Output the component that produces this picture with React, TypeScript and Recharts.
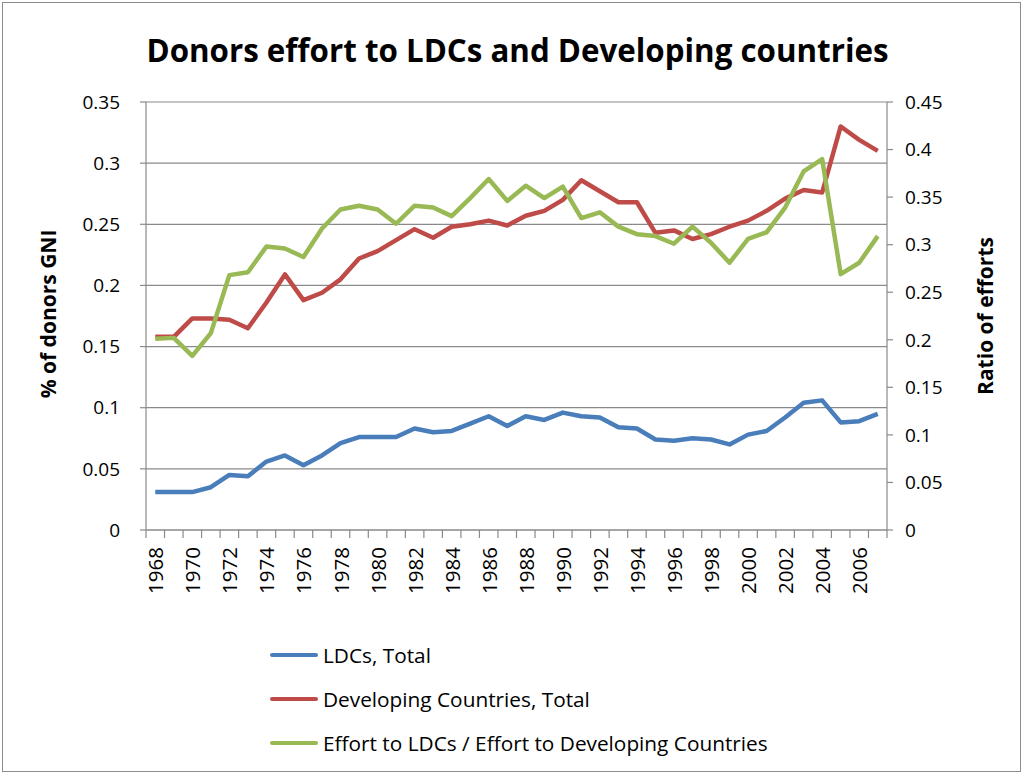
import { CartesianGrid, Legend, Line, LineChart, XAxis, YAxis } from "recharts";

const YEARS = [
  1968, 1969, 1970, 1971, 1972, 1973, 1974, 1975, 1976, 1977,
  1978, 1979, 1980, 1981, 1982, 1983, 1984, 1985, 1986, 1987,
  1988, 1989, 1990, 1991, 1992, 1993, 1994, 1995, 1996, 1997,
  1998, 1999, 2000, 2001, 2002, 2003, 2004, 2005, 2006, 2007,
];

const LDC_TOTAL = [
  0.031, 0.031, 0.031, 0.035, 0.045, 0.044, 0.056, 0.061, 0.053, 0.061,
  0.071, 0.076, 0.076, 0.076, 0.083, 0.080, 0.081, 0.087, 0.093, 0.085,
  0.093, 0.090, 0.096, 0.093, 0.092, 0.084, 0.083, 0.074, 0.073, 0.075,
  0.074, 0.070, 0.078, 0.081, 0.092, 0.104, 0.106, 0.088, 0.089, 0.095,
];

const DEV_TOTAL = [
  0.158, 0.158, 0.173, 0.173, 0.172, 0.165, 0.186, 0.209, 0.188, 0.194,
  0.205, 0.222, 0.228, 0.237, 0.246, 0.239, 0.248, 0.250, 0.253, 0.249,
  0.257, 0.261, 0.270, 0.286, 0.277, 0.268, 0.268, 0.243, 0.245, 0.238,
  0.242, 0.248, 0.253, 0.261, 0.271, 0.278, 0.276, 0.330, 0.319, 0.310,
];

const EFFORT_RATIO = [
  0.201, 0.202, 0.183, 0.207, 0.268, 0.271, 0.298, 0.296, 0.287, 0.317,
  0.337, 0.341, 0.337, 0.322, 0.341, 0.339, 0.330, 0.349, 0.369, 0.346,
  0.362, 0.349, 0.361, 0.328, 0.334, 0.319, 0.311, 0.309, 0.301, 0.319,
  0.302, 0.281, 0.306, 0.313, 0.339, 0.377, 0.390, 0.269, 0.281, 0.309,
];

const YEAR_LABELS = [
  1968, 1970, 1972, 1974, 1976, 1978, 1980, 1982, 1984, 1986,
  1988, 1990, 1992, 1994, 1996, 1998, 2000, 2002, 2004, 2006,
];
const LEFT_TICKS = [0, 0.05, 0.1, 0.15, 0.2, 0.25, 0.3, 0.35];
const RIGHT_TICKS = [0, 0.05, 0.1, 0.15, 0.2, 0.25, 0.3, 0.35, 0.4, 0.45];

const SERIES = [
  { key: "ldc", name: "LDCs, Total", color: "#4a7ebb", axis: "left" },
  { key: "dev", name: "Developing Countries, Total", color: "#be4b48", axis: "left" },
  { key: "ratio", name: "Effort to LDCs / Effort to Developing Countries", color: "#98b954", axis: "right" },
];

const FONT = '"Open Sans", sans-serif';
const GRID = "#8a8a8a";

const data = YEARS.map((year, i) => ({
  year,
  ldc: LDC_TOTAL[i],
  dev: DEV_TOTAL[i],
  ratio: EFFORT_RATIO[i],
}));

// category boundaries get tick marks, even years get labels
const boundaries = [...YEARS.map((y) => y - 0.5), YEARS[YEARS.length - 1] + 0.5];
const xTicks = [...boundaries, ...YEAR_LABELS].sort((a, b) => a - b);

function YearTick({ x, y, payload }: any) {
  const v = payload.value;
  if (!Number.isInteger(v)) {
    return <line x1={x} x2={x} y1={y} y2={y + 8} stroke={GRID} strokeWidth={1.2} />;
  }
  const ty = y + 17;
  return (
    <text
      x={x}
      y={ty}
      transform={`rotate(-90 ${x} ${ty})`}
      textAnchor="end"
      dominantBaseline="central"
      fontFamily={FONT}
      fontSize={20.5}
      fill="#000"
    >
      {v}
    </text>
  );
}

// keep the series order (the legend payload comes sorted by name)
function LegendBox() {
  return (
    <div style={{ fontFamily: FONT, fontSize: 20.8 }}>
      {SERIES.map((s) => (
        <div key={s.key} style={{ display: "flex", alignItems: "center", height: 44 }}>
          <span style={{ width: 48, height: 4.5, background: s.color, borderRadius: 2, marginRight: 5 }} />
          <span style={{ color: "#000", whiteSpace: "nowrap" }}>{s.name}</span>
        </div>
      ))}
    </div>
  );
}

const tickStyle = { fontFamily: FONT, fontSize: 19, fill: "#000" };

export default function App() {
  return (
    <div style={{ position: "absolute", left: 0, top: 0, width: 1027, height: 776, background: "#fff" }}>
      <div
        style={{
          position: "absolute", left: 2, top: 2, width: 1019, height: 770,
          border: "1px solid #8c8c8c", boxSizing: "border-box",
        }}
      />
      <div
        style={{
          position: "absolute", left: 4, top: 30, width: 1027, textAlign: "center",
          fontFamily: FONT, fontWeight: 700, fontSize: 31.3, lineHeight: "40px", color: "#000",
        }}
      >
        Donors effort to LDCs and Developing countries
      </div>
      <div
        style={{
          position: "absolute", left: 48, top: 314, transform: "translate(-50%, -50%) rotate(-90deg)",
          fontFamily: FONT, fontWeight: 700, fontSize: 21, whiteSpace: "nowrap", color: "#000",
        }}
      >
        % of donors GNI
      </div>
      <div
        style={{
          position: "absolute", left: 985, top: 316, transform: "translate(-50%, -50%) rotate(-90deg)",
          fontFamily: FONT, fontWeight: 700, fontSize: 21, whiteSpace: "nowrap", color: "#000",
        }}
      >
        Ratio of efforts
      </div>
      <LineChart
        width={1027}
        height={776}
        data={data}
        margin={{ top: 102, right: 80, bottom: 186, left: 86 }}
        style={{ position: "absolute", left: 0, top: 0 }}
      >
        <CartesianGrid yAxisId="left" vertical={false} stroke={GRID} strokeWidth={1.2} />
        <XAxis
          dataKey="year"
          type="number"
          domain={[1967.5, 2007.5]}
          ticks={xTicks}
          interval={0}
          height={60}
          tickLine={false}
          tickSize={0}
          tickMargin={0}
          axisLine={{ stroke: GRID, strokeWidth: 1.2 }}
          tick={<YearTick />}
        />
        <YAxis
          yAxisId="left"
          orientation="left"
          width={60}
          domain={[0, 0.35]}
          ticks={LEFT_TICKS}
          tickFormatter={(v) => String(v)}
          tick={tickStyle}
          tickSize={6}
          tickMargin={20}
          axisLine={{ stroke: GRID, strokeWidth: 1.2 }}
          tickLine={{ stroke: GRID, strokeWidth: 1.2 }}
        />
        <YAxis
          yAxisId="right"
          orientation="right"
          width={60}
          domain={[0, 0.45]}
          ticks={RIGHT_TICKS}
          tickFormatter={(v) => String(v)}
          tick={tickStyle}
          tickSize={6}
          tickMargin={12}
          axisLine={{ stroke: GRID, strokeWidth: 1.2 }}
          tickLine={{ stroke: GRID, strokeWidth: 1.2 }}
        />
        {SERIES.map((s) => (
          <Line
            key={s.key}
            yAxisId={s.axis}
            dataKey={s.key}
            name={s.name}
            type="linear"
            stroke={s.color}
            strokeWidth={4.5}
            strokeLinejoin="round"
            dot={false}
            activeDot={false}
            isAnimationActive={false}
          />
        ))}
        <Legend
          layout="vertical"
          align="center"
          verticalAlign="middle"
          wrapperStyle={{ left: 270, top: 633, width: 560 }}
          content={<LegendBox />}
        />
      </LineChart>
    </div>
  );
}
